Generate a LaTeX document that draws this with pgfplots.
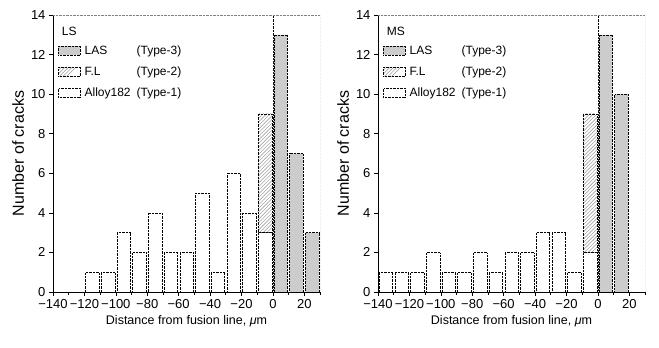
\documentclass[border=0pt]{standalone}
\usepackage{pgfplots}
\pgfplotsset{compat=1.18}
\usepackage{pgfplotstable}
\usepackage{fontspec}
\setmainfont{Liberation Sans}

\pgfplotstableread{
x alloy fl las
-135 0 0 0
-125 0 0 0
-115 1 0 0
-105 1 0 0
-95 3 0 0
-85 2 0 0
-75 4 0 0
-65 2 0 0
-55 2 0 0
-45 5 0 0
-35 1 0 0
-25 6 0 0
-15 4 0 0
-5 3 6 0
5 0 0 13
15 0 0 7
25 0 0 3
}\lsdata

\pgfplotstableread{
x alloy fl las
-135 1 0 0
-125 1 0 0
-115 1 0 0
-105 2 0 0
-95 1 0 0
-85 1 0 0
-75 2 0 0
-65 1 0 0
-55 2 0 0
-45 2 0 0
-35 3 0 0
-25 3 0 0
-15 1 0 0
-5 2 7 0
5 0 0 13
15 0 0 10
25 0 0 0
}\msdata

\newcommand{\hatchlines}{%
  \foreach \i in {0,...,44}{%
    \draw[gray!75, solid, line width=0.45pt]
      ([xshift=\i*3.6pt-150pt]path picture bounding box.south west) -- ++(160pt,160pt);}}

\pgfplotsset{crack/.style={
  scale only axis, width=267pt, height=277pt,
  xmin=-140, xmax=30, ymin=0, ymax=14,
  ybar stacked, bar width=8.6,
  axis x line*=bottom, axis y line*=left,
  axis line style={black, line width=0.8pt},
  xtick={-140,-120,...,20},
  xticklabels={−140,−120,−100,−80,−60,−40,−20,0,20},
  minor xtick={-130,-110,...,30},
  ytick={0,2,...,14},
  tick align=outside, tick style={black, line width=0.6pt},
  major tick length=4pt, minor tick length=3pt,
  ticklabel style={font=\fontsize{13}{15}\selectfont},
  /pgf/number format/assume math mode=true,
  xlabel={Distance from fusion line, \textit{μ}m},
  xlabel style={font=\fontsize{12.5}{15}\selectfont},
  ylabel={Number of cracks},
  ylabel style={font=\fontsize{16}{18}\selectfont},
  reverse legend,
  legend cell align=left,
  legend style={draw=none, fill=none, at={(0.015,0.90)}, anchor=north west,
    font=\fontsize{12}{14}\selectfont, row sep=7pt, inner sep=1pt},
  legend image code/.code={\draw[#1] (0pt,-4pt) rectangle (22pt,5pt);},
  alloystyle/.style={draw=black, densely dotted, fill=white},
  flstyle/.style={draw=black, densely dotted, fill=white,
    postaction={path picture={\hatchlines}},
    legend image code/.code={%
      \fill[white] (0pt,-4pt) rectangle (22pt,5pt);
      \begin{scope}
        \clip (0pt,-4pt) rectangle (22pt,5pt);
        \foreach \k in {0,...,9}{\draw[overlay, gray!75, line width=0.45pt]
          (\k*3.6pt-10pt,-4pt) -- ++(12pt,12pt);}
      \end{scope}
      \draw[draw=black, densely dotted] (0pt,-4pt) rectangle (22pt,5pt);}},
  lasstyle/.style={draw=black, densely dotted, fill=gray!40},
}}

\begin{document}
\begin{tikzpicture}
\useasboundingbox (-53pt,-56pt) rectangle (606pt,292pt);
\begin{axis}[crack, at={(0pt,0pt)}, anchor=south west]
  \addplot[alloystyle] table[x=x,y=alloy]{\lsdata};
  \addlegendentry{\hspace{2pt}\makebox[52pt][l]{Alloy182}(Type-1)}
  \addplot[flstyle] table[x=x,y=fl]{\lsdata};
  \addlegendentry{\hspace{2pt}\makebox[52pt][l]{F.L}(Type-2)}
  \addplot[lasstyle] table[x=x,y=las]{\lsdata};
  \addlegendentry{\hspace{2pt}\makebox[52pt][l]{LAS}(Type-3)}
  \draw[gray, densely dotted] (rel axis cs:0,1) -- (rel axis cs:1,1) -- (rel axis cs:1,0);
  \draw[black, densely dotted] (axis cs:0,0) -- (axis cs:0,14);
  \node[anchor=north west, font=\fontsize{12}{14}\selectfont] at (rel axis cs:0.02,0.97) {LS};
\end{axis}
\begin{axis}[crack, at={(325pt,0pt)}, anchor=south west]
  \addplot[alloystyle] table[x=x,y=alloy]{\msdata};
  \addlegendentry{\hspace{2pt}\makebox[52pt][l]{Alloy182}(Type-1)}
  \addplot[flstyle] table[x=x,y=fl]{\msdata};
  \addlegendentry{\hspace{2pt}\makebox[52pt][l]{F.L}(Type-2)}
  \addplot[lasstyle] table[x=x,y=las]{\msdata};
  \addlegendentry{\hspace{2pt}\makebox[52pt][l]{LAS}(Type-3)}
  \draw[gray, densely dotted] (rel axis cs:0,1) -- (rel axis cs:1,1) -- (rel axis cs:1,0);
  \draw[black, densely dotted] (axis cs:0,0) -- (axis cs:0,14);
  \node[anchor=north west, font=\fontsize{12}{14}\selectfont] at (rel axis cs:0.02,0.97) {MS};
\end{axis}
\end{tikzpicture}
\end{document}
